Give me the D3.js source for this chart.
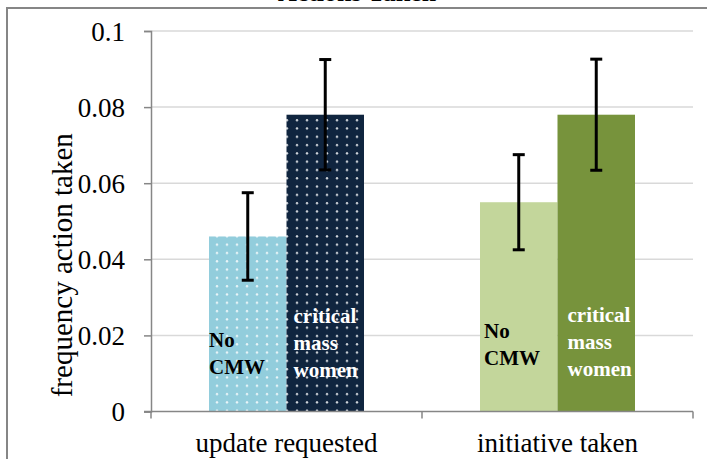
<!DOCTYPE html>
<html>
<head>
<meta charset="utf-8">
<script src="https://cdn.jsdelivr.net/npm/d3@7"></script>
<style>
  html, body { margin: 0; padding: 0; background: #fff; }
  svg { display: block; }
  svg text { font-family: "Liberation Serif", "Times New Roman", "DejaVu Serif", serif; }
</style>
</head>
<body>
<svg id="chart" width="707" height="459"></svg>
<script>
// Chart data
const chartTitle = "Actions Taken";
const yTitle = "frequency action taken";
const categories = ["update requested", "initiative taken"];
const seriesNames = ["No CMW", "critical mass women"];
const noCMW = [0.046, 0.055];
const noCMWErr = [0.0115, 0.0125];
const cmw = [0.078, 0.078];
const cmwErr = [0.0145, 0.0146];
const yTicks = [0, 0.02, 0.04, 0.06, 0.08, 0.1];
const yTickLabels = ["0", "0.02", "0.04", "0.06", "0.08", "0.1"];
const labelLines = [["No", "CMW"], ["critical", "mass", "women"]];

const serif = "Liberation Serif, Times New Roman, DejaVu Serif, serif";
const svg = d3.select("#chart").attr("font-family", serif);

// Plot geometry
const plotLeft = 151, plotRight = 693, plotTop = 31, plotBottom = 411.5;

const x = d3.scaleBand().domain(categories).range([plotLeft, plotRight]).paddingInner(0).paddingOuter(0);
const groupPad = 58;
const xs = d3.scaleBand().domain([0, 1]).range([0, x.bandwidth() - 2 * groupPad]);
const y = d3.scaleLinear().domain([0, 0.1]).range([plotBottom, plotTop]);

// Fill colours per category and series: [noCMW, cmw]
const fills = [["url(#dotsLight)", "url(#dotsDark)"], ["#c3d69b", "#77933c"]];
const labelColors = ["#000", "#fff"];

// Dot patterns
const defs = svg.append("defs");
function dotPattern(id, bg) {
  const p = defs.append("pattern").attr("id", id).attr("patternUnits", "userSpaceOnUse")
    .attr("width", 10).attr("height", 8.3).attr("x", 2).attr("y", 0);
  p.append("rect").attr("width", 10).attr("height", 8.3).attr("fill", bg);
  p.append("circle").attr("cx", 5).attr("cy", 4).attr("r", 1.2).attr("fill", "#fff").attr("opacity", 0.8);
}
dotPattern("dotsLight", "#92cddc");
dotPattern("dotsDark", "#10253f");

// Outer frame
svg.append("path").attr("d", "M7,470 L7,8 L720,8")
  .attr("fill", "none").attr("stroke", "#868686").attr("stroke-width", 2);

// Title (runs off the top edge)
svg.append("text").attr("x", 357).attr("y", 1).attr("text-anchor", "middle")
  .attr("font-family", serif).attr("font-size", 26).attr("font-weight", "bold")
  .attr("fill", "#000").text(chartTitle);

// Gridlines
svg.append("g").selectAll("line").data(yTicks.filter(d => d > 0)).join("line")
  .attr("x1", plotLeft).attr("x2", plotRight)
  .attr("y1", d => y(d)).attr("y2", d => y(d))
  .attr("stroke", "#d9d9d9").attr("stroke-width", 1.5);

// Y axis
const yAxis = d3.axisLeft(y).tickValues(yTicks)
  .tickFormat((d, i) => yTickLabels[i]).tickSize(7).tickPadding(19);
const gy = svg.append("g").attr("transform", `translate(${plotLeft},0)`).call(yAxis)
  .attr("font-family", serif);
gy.select(".domain").attr("stroke", "#868686").attr("stroke-width", 1.5);
gy.selectAll(".tick line").attr("stroke", "#868686").attr("stroke-width", 1.5);
gy.selectAll(".tick text").attr("font-size", 27).attr("font-family", serif)
  .attr("fill", "#000").attr("dy", "0.34em");

// Y axis title
svg.append("text")
  .attr("transform", `translate(72,${(plotTop + plotBottom) / 2 + 44}) rotate(-90)`)
  .attr("text-anchor", "middle").attr("font-family", serif).attr("font-size", 29)
  .attr("fill", "#000").text(yTitle);

// Bars
const bars = [];
categories.forEach((c, i) => {
  [noCMW[i], cmw[i]].forEach((v, s) => {
    bars.push({ c, i, s, v, err: s === 0 ? noCMWErr[i] : cmwErr[i] });
  });
});
const bx = d => x(d.c) + groupPad + xs(d.s);
svg.append("g").selectAll("rect").data(bars).join("rect")
  .attr("x", bx).attr("width", xs.bandwidth())
  .attr("y", d => y(d.v)).attr("height", d => y(0) - y(d.v))
  .attr("fill", d => fills[d.i][d.s]);

// X axis
const xAxis = d3.axisBottom(x).tickSize(0).tickPadding(0);
const gx = svg.append("g").attr("transform", `translate(0,${plotBottom})`).call(xAxis)
  .attr("font-family", serif);
gx.select(".domain").remove();
gx.selectAll(".tick text").attr("font-size", 27).attr("font-family", serif)
  .attr("fill", "#000").attr("y", 40).attr("dy", 0);
svg.append("line").attr("x1", plotLeft - 7).attr("x2", plotRight).attr("y1", plotBottom).attr("y2", plotBottom)
  .attr("stroke", "#868686").attr("stroke-width", 1.5);
svg.append("g").selectAll("line").data([plotLeft, plotLeft + x.bandwidth(), plotRight]).join("line")
  .attr("x1", d => d).attr("x2", d => d).attr("y1", plotBottom).attr("y2", plotBottom + 7)
  .attr("stroke", "#868686").attr("stroke-width", 1.5);

// Error bars
const eg = svg.append("g").attr("stroke", "#000").attr("stroke-width", 3);
bars.forEach(d => {
  const cx = bx(d) + xs.bandwidth() / 2;
  const y1 = y(d.v + d.err), y2 = y(d.v - d.err);
  eg.append("line").attr("x1", cx).attr("x2", cx).attr("y1", y1).attr("y2", y2);
  eg.append("line").attr("x1", cx - 6).attr("x2", cx + 6).attr("y1", y1).attr("y2", y1);
  eg.append("line").attr("x1", cx - 6).attr("x2", cx + 6).attr("y1", y2).attr("y2", y2);
});

// Series labels inside the bars
const labelLayout = [
  [{ dx: 0, y0: 347 }, { dx: 7, y0: 323 }],
  [{ dx: 4, y0: 338 }, { dx: 10, y0: 322 }]
];
bars.forEach(d => {
  const L = labelLayout[d.i][d.s];
  const t = svg.append("text").attr("font-family", serif).attr("font-size", 21)
    .attr("font-weight", "bold").attr("fill", labelColors[d.s]);
  labelLines[d.s].forEach((ln, k) => {
    t.append("tspan").attr("x", bx(d) + L.dx).attr("y", L.y0 + k * 27).text(ln);
  });
});
</script>
</body>
</html>
